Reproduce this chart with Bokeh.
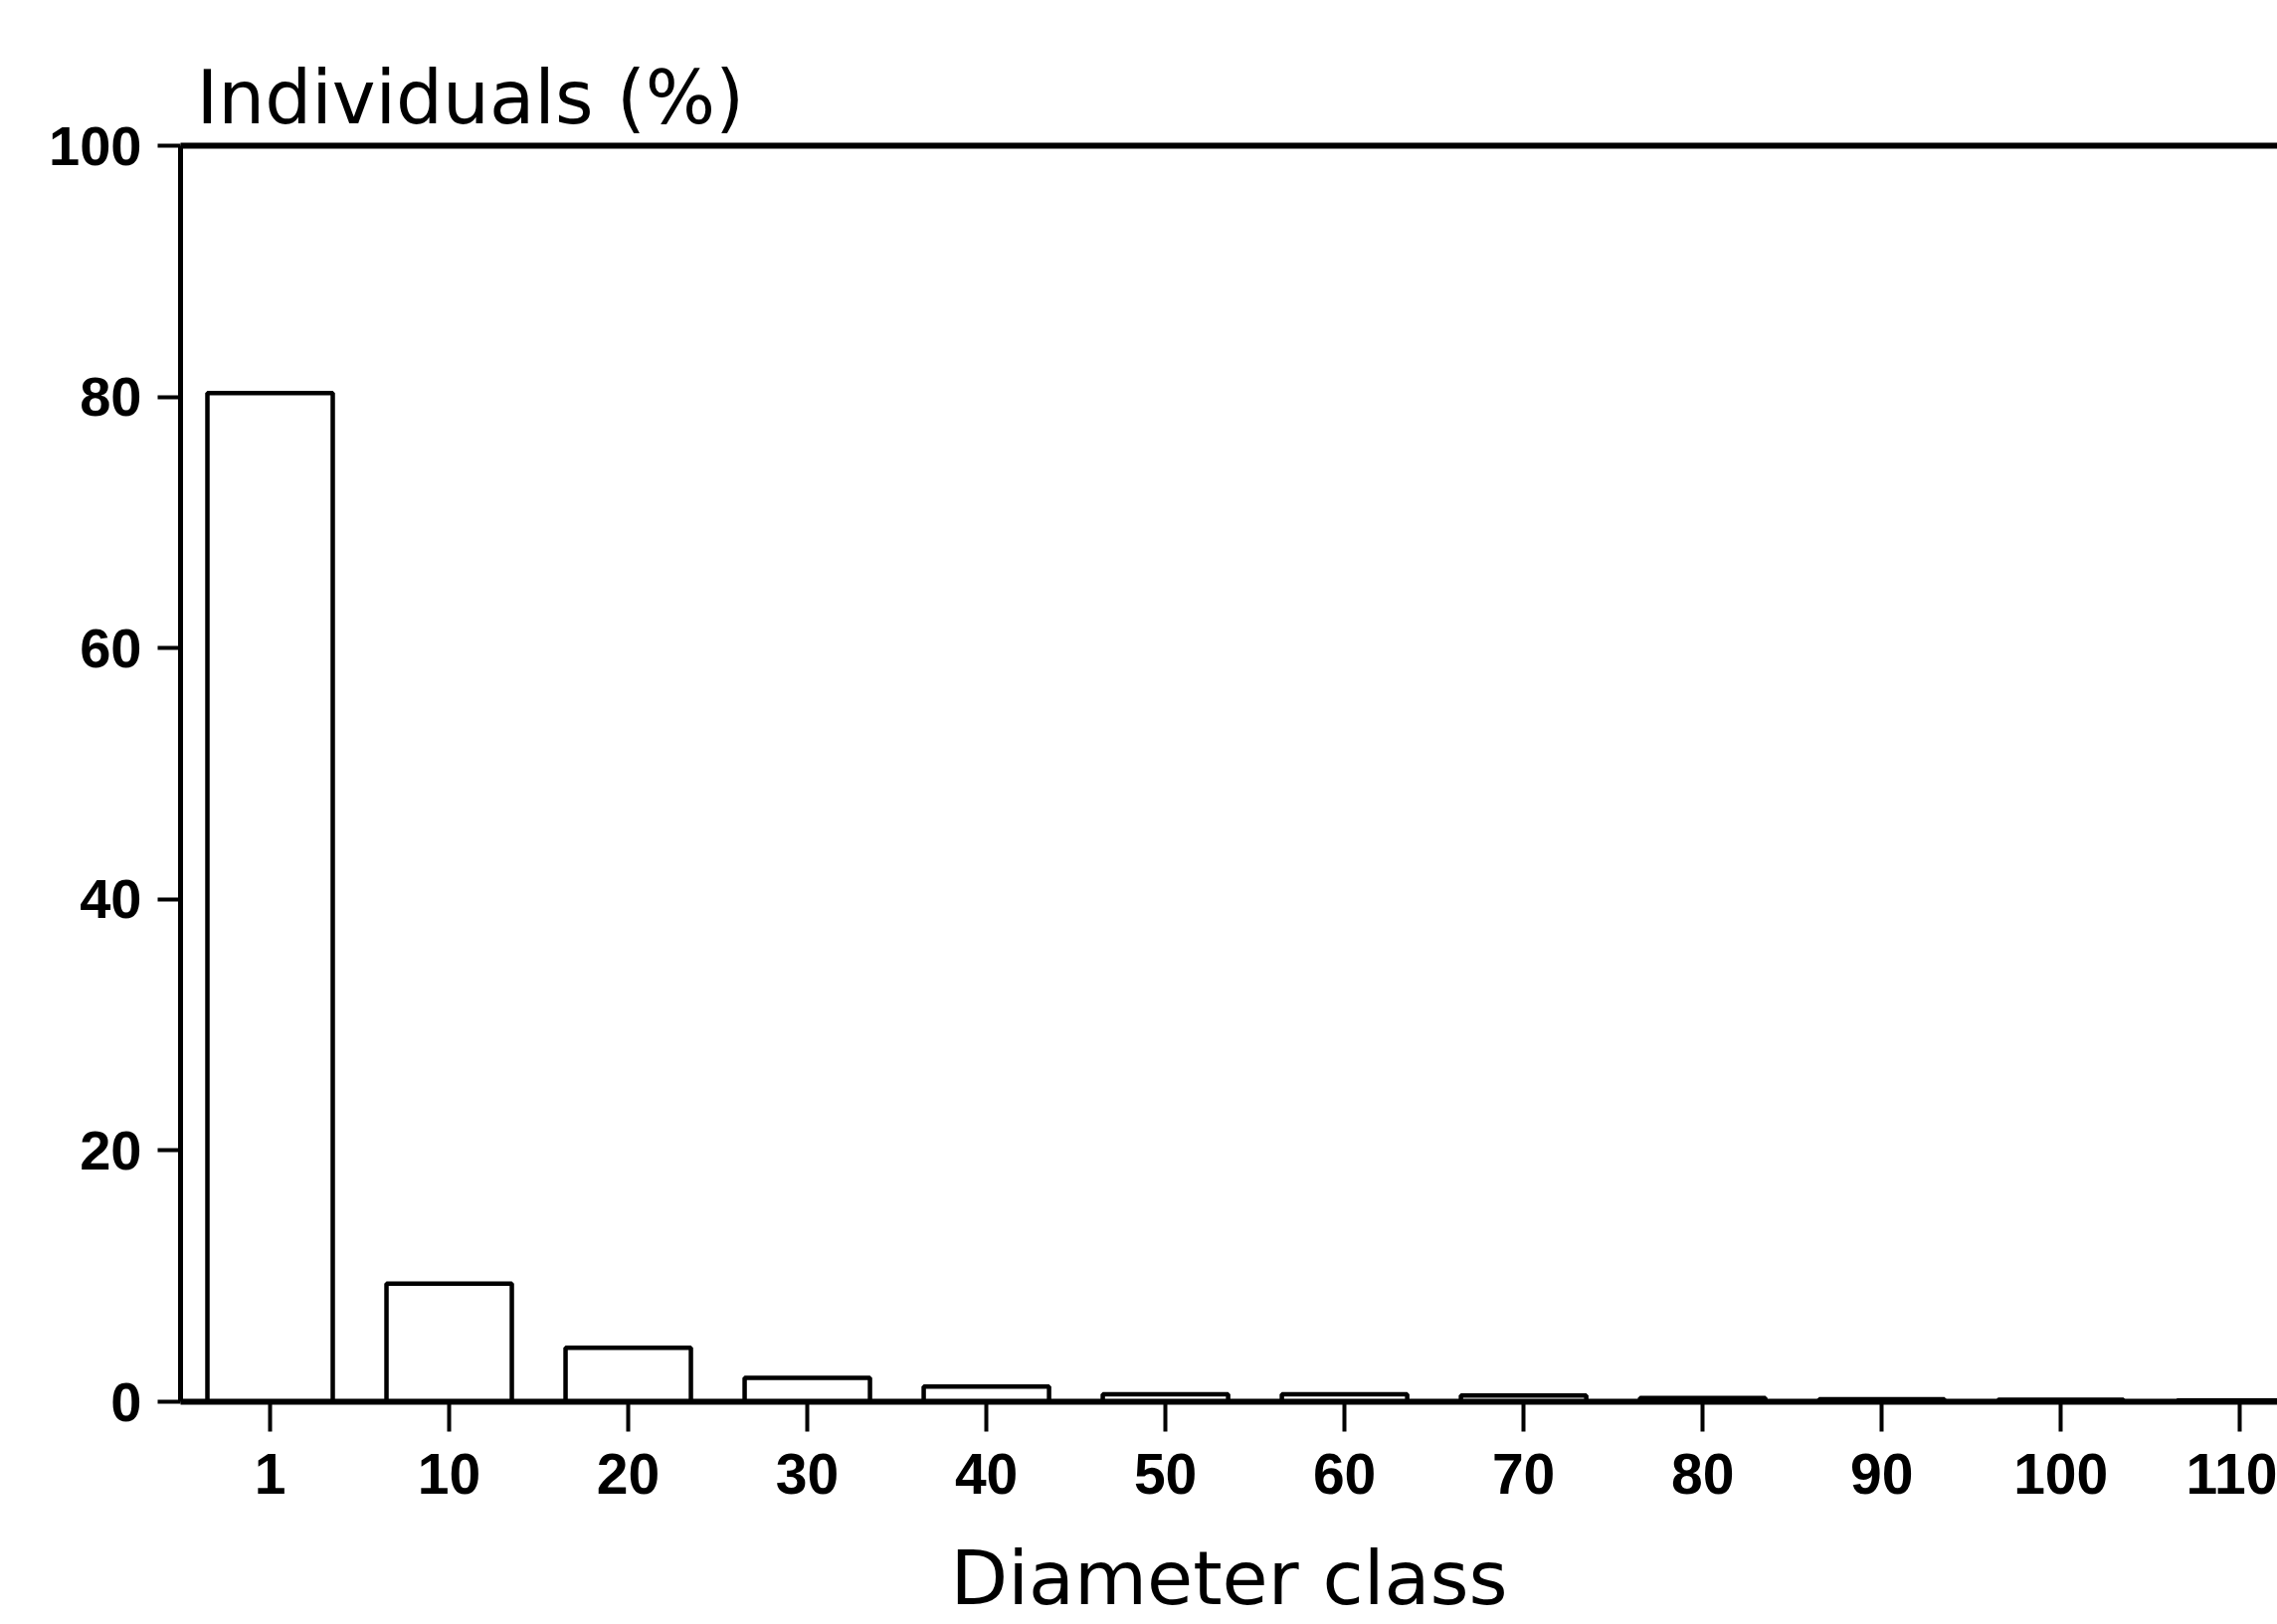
from bokeh.plotting import figure
from bokeh.models import Range1d, FixedTicker, LinearAxis
from bokeh.embed import file_html
from bokeh.resources import INLINE

# ---- data ----
classes = ["1", "10", "20", "30", "40", "50", "60", "70", "80", "90", "100", "110"]
individuals_pct = [80.3, 9.4, 4.3, 1.9, 1.2, 0.6, 0.6, 0.5, 0.3, 0.2, 0.15, 0.1]
y_ticks = [0, 20, 40, 60, 80, 100]

positions = list(range(len(classes)))

p = figure(width=2289, height=1633, output_backend="svg", toolbar_location=None,
           x_range=Range1d(-0.5, 11.21), y_range=Range1d(0, 100),
           x_axis_type=None, y_axis_type=None,
           min_border_left=181, min_border_right=0, min_border_top=146,
           min_border_bottom=223)
p.outline_line_color = None
p.xgrid.visible = False
p.ygrid.visible = False
p.background_fill_color = "white"
p.border_fill_color = "white"

p.title.text = "Individuals (%)"
p.title.align = "left"
p.title.offset = 16
p.title.standoff = 12
p.title.text_font = "DejaVu Sans"
p.title.text_font_style = "normal"
p.title.text_font_size = "74px"
p.title.text_color = "black"

p.vbar(x=positions, top=individuals_pct, bottom=0, width=0.7,
       fill_color="white", line_color="black", line_width=4.5)

TICK_FONT = "Liberation Sans"

yax = LinearAxis(ticker=FixedTicker(ticks=y_ticks))
yax.axis_line_width = 5
yax.major_tick_line_width = 4
yax.major_tick_out = 23
yax.major_tick_in = 0
yax.minor_tick_line_color = None
yax.major_label_text_font = TICK_FONT
yax.major_label_text_font_style = "bold"
yax.major_label_text_font_size = "56px"
yax.major_label_standoff = 16
yax.major_label_text_color = "black"
p.add_layout(yax, "left")

xax = LinearAxis(ticker=FixedTicker(ticks=positions),
                 major_label_overrides={i: c for i, c in zip(positions, classes)})
xax.axis_line_width = 6
xax.major_tick_line_width = 4
xax.major_tick_out = 30
xax.major_tick_in = 0
xax.minor_tick_line_color = None
xax.major_label_text_font = TICK_FONT
xax.major_label_text_font_style = "bold"
xax.major_label_text_font_size = "57px"
xax.major_label_standoff = 22
xax.major_label_text_color = "black"
xax.axis_label = "Diameter class"
xax.axis_label_text_font = "DejaVu Sans"
xax.axis_label_text_font_style = "normal"
xax.axis_label_text_font_size = "75px"
xax.axis_label_standoff = 38
xax.axis_label_text_color = "black"
p.add_layout(xax, "below")

top = LinearAxis(ticker=FixedTicker(ticks=[]))
top.axis_line_width = 6
top.major_tick_line_color = None
top.minor_tick_line_color = None
top.major_label_text_font_size = "0px"
p.add_layout(top, "above")

open("out.html", "w").write(file_html(p, INLINE))
